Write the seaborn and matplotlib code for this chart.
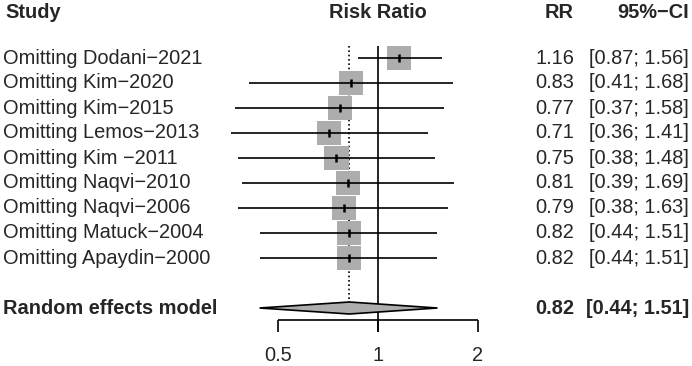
import numpy as np
import pandas as pd
import seaborn as sns
import matplotlib.pyplot as plt
from matplotlib.transforms import blended_transform_factory

# data
studies = ["Omitting Dodani−2021", "Omitting Kim−2020", "Omitting Kim−2015",
           "Omitting Lemos−2013", "Omitting Kim −2011", "Omitting Naqvi−2010",
           "Omitting Naqvi−2006", "Omitting Matuck−2004", "Omitting Apaydin−2000"]
rr = [1.16, 0.83, 0.77, 0.71, 0.75, 0.81, 0.79, 0.82, 0.82]
ci_lo = [0.87, 0.41, 0.37, 0.36, 0.38, 0.39, 0.38, 0.44, 0.44]
ci_hi = [1.56, 1.68, 1.58, 1.41, 1.48, 1.69, 1.63, 1.51, 1.51]
pooled_rr, pooled_lo, pooled_hi = 0.82, 0.44, 1.51
x_ticks = [0.5, 1, 2]

df = pd.DataFrame({"study": studies, "rr": rr, "lo": ci_lo, "hi": ci_hi})
df["row"] = np.arange(len(df))
pooled_row = len(df) + 1

sns.set_theme(style="white")
plt.rcParams["font.family"] = ["Liberation Sans", "DejaVu Sans"]
fs = 14.4

fig = plt.figure(figsize=(6.92, 3.66), dpi=100)
ax = fig.add_axes([0, 0, 1, 1])
ax.set_xscale("log", base=2)
# 100 px per doubling, x=1 at 378 px; rows 25 px apart, first row at 58 px
ax.set_xlim(2 ** (-378 / 100), 2 ** ((692 - 378) / 100))
ax.set_ylim((366 - 58) / 25, -58 / 25)
ax.axis("off")

# reference lines
ax.vlines(1, -0.48, 10.96, color="black", lw=1.2)
ax.vlines(pooled_rr, -0.48, pooled_row - 0.26, color="black", lw=1.2,
          linestyles=(0, (1, 1.6)))

# squares, then confidence intervals on top
sns.scatterplot(data=df, x="rr", y="row", marker="s", s=300, color="#adadad",
                edgecolor="none", ax=ax, zorder=3, legend=False)
ax.hlines(df["row"], df["lo"], df["hi"], color="black", lw=1.2, zorder=4)
sns.scatterplot(data=df, x="rr", y="row", marker="|", s=40, color="black",
                linewidth=1.8, ax=ax, zorder=5, legend=False)

# pooled diamond
ax.fill([pooled_lo, pooled_rr, pooled_hi, pooled_rr],
        [pooled_row, pooled_row - 0.24, pooled_row, pooled_row + 0.24],
        facecolor="#adadad", edgecolor="black", lw=1.2, zorder=3)

# x axis
axis_y = 10.48
ax.hlines(axis_y, x_ticks[0], x_ticks[-1], color="black", lw=1.2)
ax.vlines(x_ticks, axis_y, axis_y + 0.48, color="black", lw=1.2)
for t in x_ticks:
    ax.text(t, 11.9, f"{t:g}", ha="center", va="center", fontsize=fs)

# text columns
tr = blended_transform_factory(ax.transAxes, ax.transData)
head_y = -1.84
ax.text(5 / 692, head_y, "Study", transform=tr, ha="left", va="center",
        fontsize=fs, fontweight="bold")
ax.text(1, head_y, "Risk Ratio", ha="center", va="center",
        fontsize=fs, fontweight="bold")
ax.text(574 / 692, head_y, "RR", transform=tr, ha="right", va="center",
        fontsize=fs, fontweight="bold")
ax.text(689 / 692, head_y, "95%−CI", transform=tr, ha="right", va="center",
        fontsize=fs, fontweight="bold")

for _, r in df.iterrows():
    ax.text(3 / 692, r["row"], r["study"], transform=tr, ha="left",
            va="center", fontsize=fs)
    ax.text(574 / 692, r["row"], f"{r['rr']:.2f}", transform=tr, ha="right",
            va="center", fontsize=fs)
    ax.text(689 / 692, r["row"], f"[{r['lo']:.2f}; {r['hi']:.2f}]",
            transform=tr, ha="right", va="center", fontsize=fs)

ax.text(3 / 692, pooled_row, "Random effects model", transform=tr, ha="left",
        va="center", fontsize=fs, fontweight="bold")
ax.text(574 / 692, pooled_row, f"{pooled_rr:.2f}", transform=tr, ha="right",
        va="center", fontsize=fs, fontweight="bold")
ax.text(689 / 692, pooled_row, f"[{pooled_lo:.2f}; {pooled_hi:.2f}]",
        transform=tr, ha="right", va="center", fontsize=fs, fontweight="bold")

fig.savefig("out.png", dpi=100)
